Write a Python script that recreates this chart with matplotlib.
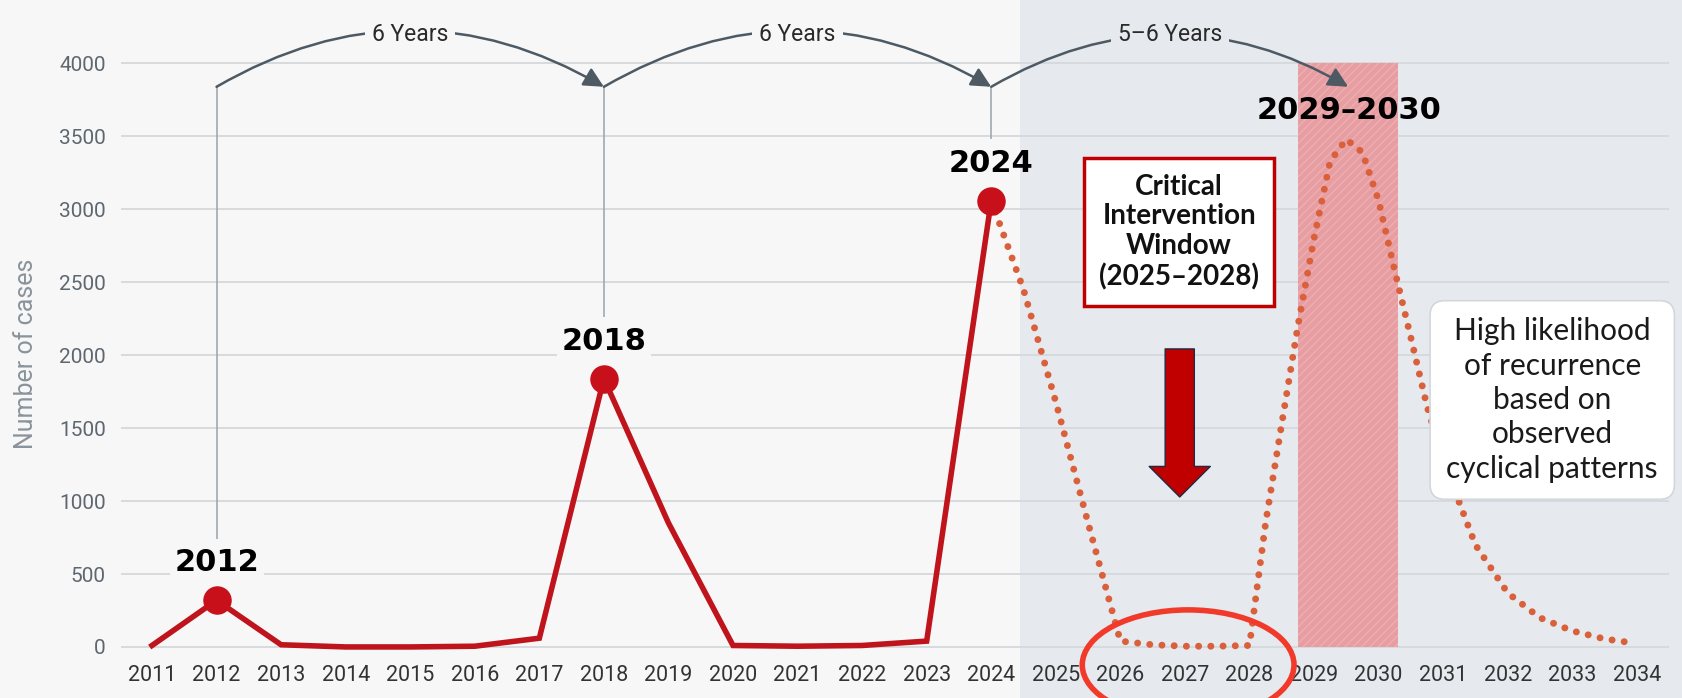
import matplotlib
matplotlib.use("Agg")
import matplotlib.pyplot as plt
from matplotlib.patches import FancyArrowPatch, Ellipse

# ---------------- data ----------------
years = list(range(2011, 2025))
cases = [10, 320, 15, 0, 0, 5, 60, 1840, 850, 10, 5, 10, 40, 3060]

peak_years = [2012, 2018, 2024]
peak_cases = [320, 1840, 3060]
peak_labels = ["2012", "2018", "2024"]

proj_years = [2024, 2024.5, 2025, 2025.5, 2026, 2026.5, 2027, 2027.5, 2028,
              2028.25, 2028.5, 2028.75, 2029, 2029.25, 2029.5, 2029.75, 2030,
              2030.25, 2030.5, 2030.75, 2031, 2031.5, 2032, 2032.5, 2033,
              2033.5, 2033.9]
proj_cases = [3060, 2450, 1680, 850, 40, 15, 5, 5, 10,
              850, 1530, 2200, 2800, 3330, 3480, 3390, 3060,
              2580, 2120, 1650, 1280, 700, 370, 200, 110,
              55, 30]

x_ticks = list(range(2011, 2035))
y_ticks = list(range(0, 4001, 500))

forecast_start = 2024.45
band_years = [2028.75, 2030.3]
band_label = "2029–2030"
band_label_pos = (2029.55, 3680)

cycle_spans = [(2012, 2018, "6 Years"), (2018, 2024, "6 Years"), (2024, 2029.53, "5–6 Years")]

# ---------------- style ----------------
BG = "#f7f7f7"
SHADE = "#e6e9ee"
LINE = "#bf141c"
PROJ = "#d9603b"
GRID = "#d5d8dc"
ARC = "#4d5a64"

plt.rcParams['font.family'] = ['Roboto', 'DejaVu Sans']
plt.rcParams['hatch.linewidth'] = 1.0

fig = plt.figure(figsize=(16.82, 6.98), dpi=100)
fig.patch.set_facecolor(BG)
ax = fig.add_axes([121 / 1682, 0, 1 - 121 / 1682, 1])
ax.set_facecolor(BG)
ax.set_xlim(2010.52, 2034.70)
ax.set_ylim(-350, 4435)
for s in ax.spines.values():
    s.set_visible(False)

# shaded forecast region
ax.axvspan(forecast_start, 2034.70, color=SHADE, zorder=0, lw=0)

# gridlines
ax.hlines(y_ticks, 2010.52, 2034.5, color=GRID, lw=1.3, zorder=1)

# hatched band
ax.fill_between(band_years, 0, 4000, facecolor="#e8989c", edgecolor="#efb0b2",
                hatch="////", linewidth=0, alpha=0.92, zorder=2)

# ticks
ax.set_xticks(x_ticks)
ax.set_xticklabels([str(y) for y in x_ticks], fontsize=15.5, color="#333333")
ax.tick_params(axis='x', length=0, pad=-24)
ax.set_yticks(y_ticks)
ax.set_yticklabels([str(v) for v in y_ticks], fontsize=15, color="#5e6770")
ax.tick_params(axis='y', length=0, pad=11)
ax.set_ylabel("Number of cases", fontsize=18, color="#8a939b")
ax.yaxis.set_label_coords(-0.053, 0.493)

# connector vertical lines
bracket_y = 3840
ax.vlines(peak_years, [c + 420 for c in peak_cases], bracket_y, color="#9aa3aa", lw=1.1, zorder=2)

# arcs
for (x0, x1, lab) in cycle_spans:
    arr = FancyArrowPatch((x0, bracket_y), (x1, bracket_y),
                          connectionstyle="arc3,rad=-0.29",
                          arrowstyle="-|>,head_length=0.8,head_width=0.4",
                          mutation_scale=15, color=ARC, lw=1.8,
                          shrinkA=0, shrinkB=0, zorder=3)
    ax.add_patch(arr)
    xm = (x0 + x1) / 2
    bgc = SHADE if xm > forecast_start else BG
    ax.text(xm, 4200, lab, ha='center', va='center', fontsize=16.5, color="#2a2a2a",
            zorder=4, bbox=dict(boxstyle='square,pad=0.3', fc=bgc, ec='none'))

# historic line
ax.plot(years, cases, color=LINE, lw=4.0, zorder=5, solid_joinstyle='miter')
ax.plot(peak_years, peak_cases, 'o', color="#c8101a", ms=19.5, zorder=6)

# projection dotted
ax.plot(proj_years, proj_cases, color=PROJ, lw=5.0, linestyle=(0, (0.01, 1.75)),
        dash_capstyle='round', zorder=5)

# peak labels
for x, y, lab in zip(peak_years, peak_cases, peak_labels):
    bb = dict(boxstyle='square,pad=0.15', fc=BG, ec='none') if x + 0.7 < forecast_start else None
    ax.annotate(lab, (x, y), xytext=(0, 27), textcoords='offset points',
                ha='center', va='center', fontsize=22, fontweight='bold',
                family='DejaVu Sans', color='black', zorder=7, bbox=bb)
ax.text(*band_label_pos, band_label, ha='center', va='center', fontsize=22,
        fontweight='bold', family='DejaVu Sans', color='black', zorder=7)

# critical intervention box
ax.text(2026.91, 2845, "Critical\nIntervention\nWindow\n(2025–2028)", ha='center', va='center',
        fontsize=20, fontweight='bold', family='Lato', color='#111111', linespacing=1.18,
        zorder=8, bbox=dict(boxstyle='square,pad=0.55', fc='white', ec='#c00000', lw=2.5))

# red down arrow
down = FancyArrowPatch((2026.92, 2043), (2026.92, 1028),
                       arrowstyle="simple,head_length=22,head_width=44,tail_width=21",
                       mutation_scale=1, fc='#c00000', ec='#1f2a44', lw=1,
                       shrinkA=0, shrinkB=0, zorder=8)
ax.add_patch(down)

# recurrence box
ax.text(2032.69, 1693, "High likelihood\nof recurrence\nbased on\nobserved\ncyclical patterns",
        ha='center', va='center', fontsize=21.5, family='Lato', color='#1a1a1a', linespacing=1.28,
        zorder=8, bbox=dict(boxstyle='round,pad=0.55,rounding_size=0.5', fc='white',
                            ec='#d3d7db', lw=1.2))

# hand-drawn red circle
ax.add_patch(Ellipse((2027.05, -123), width=3.28, height=754, fill=False,
                     ec='#f23a2b', lw=4.0, zorder=9, clip_on=False))

fig.savefig("out.png", dpi=100, facecolor=BG)
